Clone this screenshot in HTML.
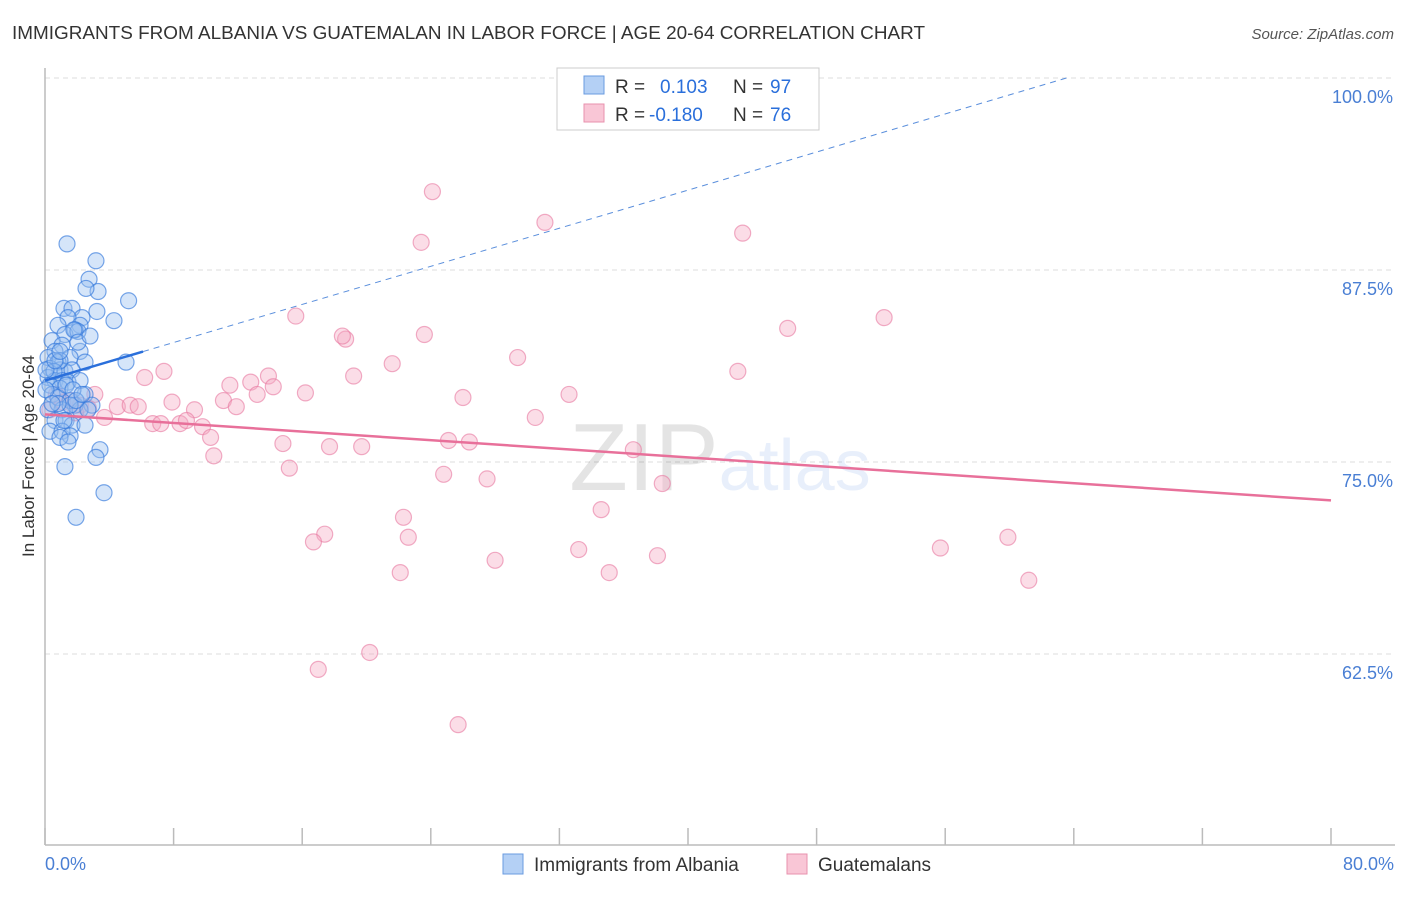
<!DOCTYPE html>
<html><head><meta charset="utf-8"><style>
body{margin:0;background:#fff;font-family:"Liberation Sans",sans-serif;}
svg text{font-family:"Liberation Sans",sans-serif;}
</style></head><body>
<svg id="chart" width="1406" height="892" xmlns="http://www.w3.org/2000/svg">
<text x="12" y="39" font-size="18" fill="#333" textLength="913" lengthAdjust="spacingAndGlyphs">IMMIGRANTS FROM ALBANIA VS GUATEMALAN IN LABOR FORCE | AGE 20-64 CORRELATION CHART</text>
<text x="1394" y="39" font-size="15" fill="#555" font-style="italic" text-anchor="end">Source: ZipAtlas.com</text>
<g id="grid"></g>
<line x1="45" y1="68" x2="45" y2="845" stroke="#bbb" stroke-width="1.5"/>
<line x1="45" y1="845" x2="1395" y2="845" stroke="#bbb" stroke-width="1.5"/>
<text x="720" y="490" font-size="96" text-anchor="middle" fill="#000" opacity="0.1" font-family="Liberation Serif">ZIP<tspan fill="#2a6fdb" opacity="1" font-family="Liberation Sans" font-size="72">atlas</tspan></text>
<text transform="translate(34,456) rotate(-90)" font-size="17" fill="#333" text-anchor="middle">In Labor Force | Age 20-64</text>
<text x="45" y="870" font-size="18" fill="#4a7fd4">0.0%</text>
<text x="1394" y="870" font-size="18" fill="#4a7fd4" text-anchor="end">80.0%</text>
<g id="marks"></g>
<g>
<rect x="557" y="68" width="262" height="62" fill="#fff" stroke="#ccc"/>
<rect x="584" y="76" width="20" height="18" fill="#b4d0f5" stroke="#6a9be0"/>
<rect x="584" y="104" width="20" height="18" fill="#f9c6d6" stroke="#e891ae"/>
<text x="615" y="93" font-size="19" fill="#333">R = </text><text x="660" y="93" font-size="19" fill="#2a6fdb">0.103</text>
<text x="733" y="93" font-size="19" fill="#333">N = </text><text x="770" y="93" font-size="19" fill="#2a6fdb">97</text>
<text x="615" y="121" font-size="19" fill="#333">R = </text><text x="649" y="121" font-size="19" fill="#2a6fdb">-0.180</text>
<text x="733" y="121" font-size="19" fill="#333">N = </text><text x="770" y="121" font-size="19" fill="#2a6fdb">76</text>
</g>
<g>
<rect x="503" y="854" width="20" height="20" fill="#b4d0f5" stroke="#6a9be0"/>
<text x="534" y="871" font-size="19" fill="#333">Immigrants from Albania</text>
<rect x="787" y="854" width="20" height="20" fill="#f9c6d6" stroke="#e891ae"/>
<text x="818" y="871" font-size="19" fill="#333">Guatemalans</text>
</g>
</svg>
<script>
const yTicks=[100,87.5,75,62.5];
const yTickLabels=["100.0%","87.5%","75.0%","62.5%"];
const xTicks=[0,8,16,24,32,40,48,56,64,72,80];
const albaniaX=[1.37,3.17,2.74,3.3,2.55,5.2,1.18,1.68,3.23,4.29,2.3,1.43,0.81,2.18,1.87,1.24,0.44,2.05,1.06,0.62,2.18,0.19,1.56,0.81,2.49,5.04,0.31,0.93,1.24,1.68,0.19,0.62,1.06,1.43,0.31,0.93,2.18,0.44,0.81,1.56,2.49,2.92,1.87,0.19,1.06,2.18,0.62,1.31,1.68,2.49,0.31,1.06,1.56,0.93,1.43,3.42,3.17,1.24,3.67,1.93,1.8,2.05,0.93,1.31,1.74,0.56,0.06,0.06,2.8,1.56,2.67,0.81,0.44,1.18,1.93,2.3,0.62,0.93];
const albaniaY=[89.2,88.1,86.9,86.1,86.3,85.5,85.0,85.0,84.8,84.2,84.4,84.4,83.9,83.9,83.6,83.3,82.9,83.5,82.6,82.2,82.2,81.8,81.8,81.5,81.5,81.5,81.1,81.0,80.9,81.0,80.5,80.3,80.3,80.2,80.0,79.8,80.3,79.4,79.2,79.0,79.4,78.7,78.7,78.4,78.4,78.4,77.7,77.7,77.4,77.4,77.0,77.0,76.7,76.6,76.3,75.8,75.3,74.7,73.0,71.4,83.6,82.8,81.6,80.0,79.7,80.9,79.7,81.0,83.2,78.7,78.4,78.8,78.8,77.7,79.0,79.4,81.6,82.2];
const guatX=[24.1,31.1,23.4,43.4,15.6,52.2,46.2,23.6,18.7,18.5,29.4,21.6,7.4,6.2,13.9,11.5,12.8,14.2,19.2,43.1,16.2,32.6,26.0,7.9,11.1,13.2,11.9,9.3,3.1,2.2,3.7,4.5,5.3,5.8,6.7,7.2,8.4,8.8,9.8,10.3,30.5,14.8,17.7,19.7,25.1,26.4,10.5,15.2,24.8,36.6,27.5,38.4,34.6,22.3,17.4,16.7,22.6,28.0,33.2,22.1,35.1,38.1,55.7,59.9,61.2,20.2,17.0,25.7,0.7,0.3,1.1,2.7,1.6,1.9];
const guatY=[92.6,90.6,89.3,89.9,84.5,84.4,83.7,83.3,83.0,83.2,81.8,81.4,80.9,80.5,80.6,80.0,80.2,79.9,80.6,80.9,79.5,79.4,79.2,78.9,79.0,79.4,78.6,78.4,79.4,78.7,77.9,78.6,78.7,78.6,77.5,77.5,77.5,77.7,77.3,76.6,77.9,76.2,76.0,76.0,76.4,76.3,75.4,74.6,74.2,75.8,73.9,73.6,71.9,71.4,70.3,69.8,70.1,68.6,69.3,67.8,67.8,68.9,69.4,70.1,67.3,62.6,61.5,57.9,79.4,78.4,78.9,78.5,79.0,78.2];
const albaniaTrend=[80.3,0.31];
const guatTrend=[78.1,-0.07];
const X0=45,X1=1331,Y100=78,PX=15.36;
function sx(v){return X0+(v/80)*(X1-X0);}
function sy(v){return Y100+(100-v)*PX;}
const NS="http://www.w3.org/2000/svg";
const grid=document.getElementById('grid'),marks=document.getElementById('marks');
function mk(tag,attrs,parent){const e=document.createElementNS(NS,tag);for(const k in attrs)e.setAttribute(k,attrs[k]);parent.appendChild(e);return e;}
yTicks.forEach((t,i)=>{
 const l=mk('line',{x1:45,x2:1395,y1:sy(t),y2:sy(t),stroke:'#ddd','stroke-dasharray':'5,4'},grid);
 
 
 const tx=mk('text',{x:1393,y:sy(t)+25,'font-size':18,fill:'#4a7fd4','text-anchor':'end'},grid);
 tx.textContent=yTickLabels[i];
 
 
});
xTicks.forEach(t=>{
 const l=mk('line',{x1:sx(t),x2:sx(t),y1:828,y2:845,stroke:'#bbb','stroke-width':1.5},grid);
 
 
});
guatX.forEach((x,i)=>{
 const c=mk('circle',{cx:sx(x),cy:sy(guatY[i]),r:8,fill:'rgba(246,170,196,0.4)',stroke:'rgba(232,120,160,0.6)','stroke-width':1.2},marks);
 
 
});
albaniaX.forEach((x,i)=>{
 const c=mk('circle',{cx:sx(x),cy:sy(albaniaY[i]),r:8,fill:'rgba(150,190,240,0.4)',stroke:'rgba(50,120,220,0.65)','stroke-width':1.2},marks);
 
 
});
const xEndB=(100-albaniaTrend[0])/albaniaTrend[1];
const d=mk('line',{x1:sx(6.1),y1:sy(albaniaTrend[0]+albaniaTrend[1]*6.1),x2:sx(xEndB),y2:sy(100),stroke:'#5b8fdc','stroke-width':1,'stroke-dasharray':'6,5'},marks);


const s=mk('line',{x1:sx(0),y1:sy(albaniaTrend[0]),x2:sx(6.1),y2:sy(albaniaTrend[0]+albaniaTrend[1]*6.1),stroke:'#2a6fdb','stroke-width':2.5},marks);


const p=mk('line',{x1:sx(0),y1:sy(guatTrend[0]),x2:sx(80),y2:sy(guatTrend[0]+guatTrend[1]*80),stroke:'#e8709a','stroke-width':2.5},marks);


</script>
</body></html>
